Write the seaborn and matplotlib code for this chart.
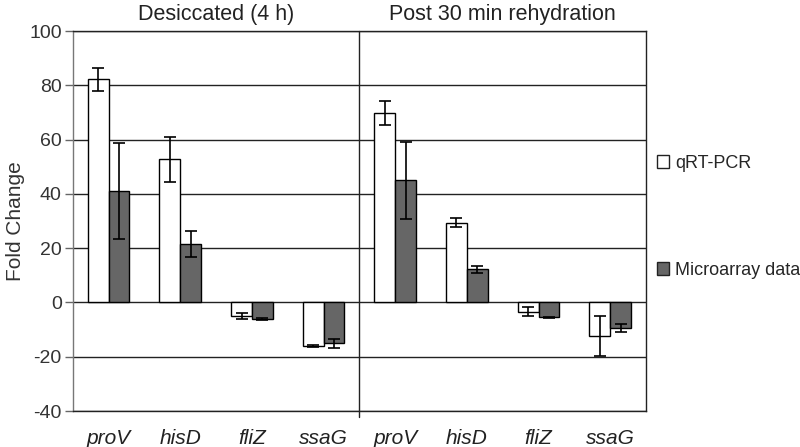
import matplotlib
matplotlib.use("Agg")
import matplotlib.pyplot as plt
import seaborn as sns
import pandas as pd
import numpy as np
from matplotlib.patches import Patch

# ---- data ----
groups = ["Desiccated (4 h)", "Post 30 min rehydration"]
genes = ["proV", "hisD", "fliZ", "ssaG"]
series = ["qRT-PCR", "Microarray data"]
qrt_desic = [82.2, 52.7, -5.0, -16.0]
qrt_desic_err = [4.3, 8.3, 1.0, 0.5]
micro_desic = [41.0, 21.6, -6.0, -15.0]
micro_desic_err = [17.8, 4.7, 0.4, 1.6]
qrt_rehyd = [69.9, 29.4, -3.4, -12.4]
qrt_rehyd_err = [4.4, 1.7, 1.7, 7.3]
micro_rehyd = [45.0, 12.2, -5.4, -9.5]
micro_rehyd_err = [14.1, 1.3, 0.2, 1.4]

yticks = [-40, -20, 0, 20, 40, 60, 80, 100]

# ---- build table ----
keys = [f"{g}|{gene}" for g in groups for gene in genes]
rows = []
vals = {series[0]: qrt_desic + qrt_rehyd, series[1]: micro_desic + micro_rehyd}
errs = {series[0]: qrt_desic_err + qrt_rehyd_err, series[1]: micro_desic_err + micro_rehyd_err}
for s in series:
    for k, v, e in zip(keys, vals[s], errs[s]):
        rows.append({"key": k, "series": s, "value": v, "err": e})
df = pd.DataFrame(rows)

sns.set_theme(style="white")
plt.rcParams["font.family"] = ["Liberation Sans", "DejaVu Sans"]

fig = plt.figure(figsize=(8, 4.47), dpi=100)
ax = fig.add_axes([0.091, 0.0805, 0.7165, 0.85])

palette = {series[0]: "#ffffff", series[1]: "#666666"}
sns.barplot(data=df, x="key", y="value", hue="series", order=keys, hue_order=series,
            palette=palette, errorbar=None, width=0.58, edgecolor="black", linewidth=1.0,
            ax=ax, legend=False, zorder=3)

# error bars from bar positions
bars = [p for p in ax.patches if p.get_width() > 0]
for i, s in enumerate(series):
    sub = df[df["series"] == s].set_index("key").loc[keys]
    sbars = bars[i * len(keys):(i + 1) * len(keys)]
    xs = [b.get_x() + b.get_width() / 2 for b in sbars]
    ax.errorbar(xs, sub["value"], yerr=sub["err"], fmt="none", ecolor="black",
                elinewidth=1.2, capsize=4, capthick=1.2, zorder=4)

ax.set_ylim(-40, 100)
ax.set_xlim(-0.5, len(keys) - 0.5)
ax.set_yticks(yticks)
ax.set_yticklabels([str(t) for t in yticks], fontsize=14, color="#333333")
ax.yaxis.grid(True, color="#222222", linewidth=1.0)
ax.set_axisbelow(True)
ax.tick_params(axis="y", which="both", left=True, length=6, width=1, color="#666666", pad=2)
ax.tick_params(axis="x", bottom=False, pad=7)
ax.set_xticks(range(len(keys)))
ax.set_xticklabels([k.split("|")[1] for k in keys], fontsize=15, style="italic", color="#222222")
ax.set_xlabel("")
ax.set_ylabel("Fold Change", fontsize=15, color="#333333", labelpad=3)
for sp in ["left", "right", "top", "bottom"]:
    ax.spines[sp].set_visible(True)
    ax.spines[sp].set_color("#222222")
    ax.spines[sp].set_linewidth(1.0)
ax.spines["left"].set_color("#777777")

# divider between groups
ax.axvline(len(genes) - 0.5, ymin=-0.015, ymax=1, color="#222222", linewidth=1.0,
           clip_on=False, zorder=2)

# group titles
for gi, g in enumerate(groups):
    xc = gi * len(genes) + (len(genes) - 1) / 2
    ax.text(xc, 1.015, g, transform=ax.get_xaxis_transform(), ha="center", va="bottom",
            fontsize=15.5, color="#222222")

handles = [Patch(facecolor=palette[s], edgecolor="#222222", linewidth=1.0, label=s) for s in series]
leg = fig.legend(handles=handles, loc="upper left", bbox_to_anchor=(0.812, 0.67),
                 frameon=False, fontsize=13, handlelength=0.7, handleheight=0.7,
                 handletextpad=0.3, labelspacing=5.0, borderaxespad=0)

fig.savefig("out.png", dpi=100)
